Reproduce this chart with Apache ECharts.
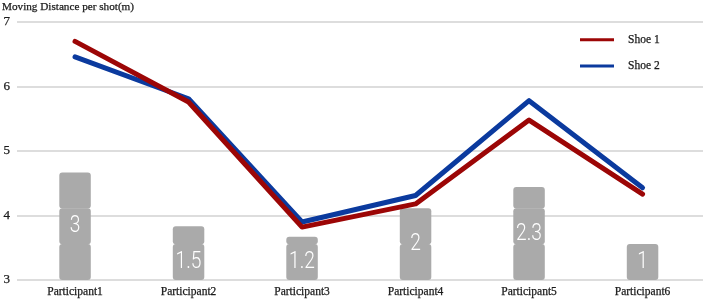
<!DOCTYPE html>
<html><head><meta charset="utf-8">
<style>html,body{margin:0;padding:0;background:#fff}#c{width:705px;height:299px}</style>
<script src="https://cdn.jsdelivr.net/npm/echarts@6/dist/echarts.min.js"></script>
</head><body><div id="c"></div>
<script>
const categories = ["Participant1","Participant2","Participant3","Participant4","Participant5","Participant6"];
const shoe1 = [6.70,5.76,3.82,4.18,5.48,4.33];
const shoe2 = [6.46,5.81,3.90,4.31,5.78,4.43];
const stackHeights = [3,1.5,1.2,2,2.6,1];
const stackLabels = ["3","1.5","1.2","2","2.3","1"];
const stackLabelPos = [1.5,0.5,0.5,1,1.3,0.5];
const serif = "Liberation Serif";
const textColor = "#1a1a1a";
const heavy = {textBorderColor:textColor,textBorderWidth:0.25};
const chart = echarts.init(document.getElementById('c'));
const stackData = categories.map((c,i)=>[i,stackHeights[i],stackLabels[i],stackLabelPos[i]]);
chart.setOption({
  animation:false,
  backgroundColor:'#fff',
  title:{text:'Moving Distance per shot(m)',left:2,top:1,padding:0,textStyle:{fontFamily:serif,fontSize:11.2,fontWeight:'normal',color:textColor,lineHeight:12,...heavy}},
  legend:{left:580,top:33.5,padding:0,orient:'vertical',itemGap:14,itemWidth:34,itemHeight:3,icon:'rect',
    data:['Shoe 1','Shoe 2'],
    textStyle:{fontFamily:serif,fontSize:11.5,color:textColor,padding:[0,0,0,9],height:12,lineHeight:12,...heavy}},
  grid:[
    {left:17,top:22,width:686,height:258},
    {left:18.3,top:22,width:681,height:258}
  ],
  xAxis:[
    {gridIndex:0,type:'category',show:false,data:categories},
    {gridIndex:1,type:'category',data:categories,axisLine:{show:false},axisTick:{show:false},
     axisLabel:{interval:0,margin:6,fontFamily:serif,fontSize:11.5,color:textColor,...heavy}}
  ],
  yAxis:[
    {gridIndex:0,type:'value',min:3,max:7,interval:1,axisLine:{show:false},axisTick:{show:false},
     axisLabel:{margin:7,fontFamily:serif,fontSize:13,color:textColor,...heavy},
     splitLine:{lineStyle:{color:'#d2d2d2',width:1.5}}},
    {gridIndex:1,type:'value',min:3,max:7,show:false,splitLine:{show:false}},
    {gridIndex:1,type:'value',min:0,max:7.227,show:false,splitLine:{show:false}}
  ],
  series:[
    {type:'custom',xAxisIndex:1,yAxisIndex:2,data:stackData,z:2,silent:true,
     encode:{x:0,y:1},
     renderItem:function(params,api){
       const idx=api.value(0),total=api.value(1),pos=api.value(3);
       const w=31.5,children=[];
       let base=0;
       while(base<total-1e-6){
         const top=Math.min(base+1,total);
         const p0=api.coord([idx,base]),p1=api.coord([idx,top]);
         children.push({type:'rect',shape:{x:p0[0]-w/2,y:p1[1]-0.3,width:w,height:p0[1]-p1[1]+0.3,r:3},style:{fill:'#aaaaaa'}});
         base=top;
       }
       const lp=api.coord([idx,pos]);
       children.push({type:'text',x:lp[0],y:lp[1],scaleX:0.8,style:{text:stackLabels[params.dataIndex],x:0,y:0,align:'center',verticalAlign:'middle',
         fontFamily:'Roboto',fontWeight:300,fontSize:24,fill:'#ffffff'}});
       return {type:'group',children};
     }},
    {name:'Shoe 2',type:'line',xAxisIndex:1,yAxisIndex:1,data:shoe2,showSymbol:false,symbol:'none',z:3,
     lineStyle:{color:'#0b3a9e',width:5,cap:'round',join:'round'},itemStyle:{color:'#0b3a9e'}},
    {name:'Shoe 1',type:'line',xAxisIndex:1,yAxisIndex:1,data:shoe1,showSymbol:false,symbol:'none',z:4,
     lineStyle:{color:'#9c0606',width:5,cap:'round',join:'round'},itemStyle:{color:'#9c0606'}}
  ]
});
</script></body></html>
